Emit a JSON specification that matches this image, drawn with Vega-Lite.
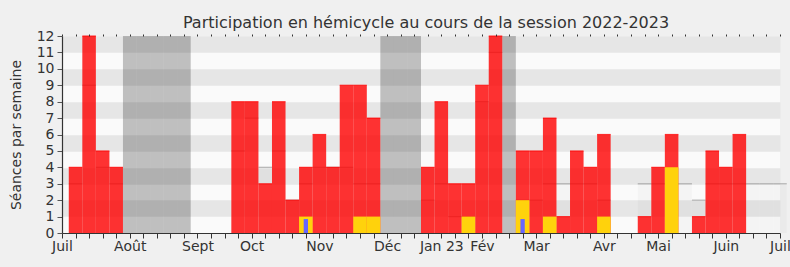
{
  "$schema": "https://vega.github.io/schema/vega-lite/v6.json",
  "width": 718,
  "height": 197,
  "autosize": {"type": "none"},
  "padding": {"left": 62, "top": 36, "right": 10, "bottom": 34},
  "background": "#f0f0f0",
  "config": {
    "font": "DejaVu Sans",
    "view": {"stroke": null, "fill": "#fafafa"},
    "scale": {"continuousPadding": 0}
  },
  "title": {
    "text": "Participation en hémicycle au cours de la session 2022-2023",
    "fontSize": 16,
    "fontWeight": "normal",
    "color": "#333333",
    "anchor": "middle",
    "baseline": "alphabetic",
    "offset": 9,
    "dy": 24,
    "dx": 5
  },
  "datasets": {
    "presence": [
      {"semaine": 1, "seances": 4}, {"semaine": 2, "seances": 12}, {"semaine": 3, "seances": 5}, {"semaine": 4, "seances": 4},
      {"semaine": 13, "seances": 8}, {"semaine": 14, "seances": 8}, {"semaine": 15, "seances": 3}, {"semaine": 16, "seances": 8},
      {"semaine": 17, "seances": 2}, {"semaine": 18, "seances": 4}, {"semaine": 19, "seances": 6}, {"semaine": 20, "seances": 4},
      {"semaine": 21, "seances": 9}, {"semaine": 22, "seances": 9}, {"semaine": 23, "seances": 7},
      {"semaine": 27, "seances": 4}, {"semaine": 28, "seances": 8}, {"semaine": 29, "seances": 3}, {"semaine": 30, "seances": 3},
      {"semaine": 31, "seances": 9}, {"semaine": 32, "seances": 12},
      {"semaine": 34, "seances": 5}, {"semaine": 35, "seances": 5}, {"semaine": 36, "seances": 7}, {"semaine": 37, "seances": 1},
      {"semaine": 38, "seances": 5}, {"semaine": 39, "seances": 4}, {"semaine": 40, "seances": 6},
      {"semaine": 43, "seances": 1}, {"semaine": 44, "seances": 4}, {"semaine": 45, "seances": 6},
      {"semaine": 47, "seances": 1}, {"semaine": 48, "seances": 5}, {"semaine": 49, "seances": 4}, {"semaine": 50, "seances": 6}
    ],
    "participation": [
      {"semaine": 18, "n": 1}, {"semaine": 22, "n": 1}, {"semaine": 23, "n": 1}, {"semaine": 30, "n": 1},
      {"semaine": 34, "n": 2}, {"semaine": 36, "n": 1}, {"semaine": 40, "n": 1}, {"semaine": 45, "n": 4}
    ],
    "questions": [
      {"semaine": 18, "n": 0.85}, {"semaine": 34, "n": 0.85}
    ],
    "vacances": [
      {"semaine": 5}, {"semaine": 6}, {"semaine": 7}, {"semaine": 8}, {"semaine": 9},
      {"semaine": 24}, {"semaine": 25}, {"semaine": 26}, {"semaine": 33}
    ],
    "mediane": [
      {"semaine": 1, "m": 3}, {"semaine": 2, "m": 9}, {"semaine": 3, "m": 4}, {"semaine": 4, "m": 3},
      {"semaine": 13, "m": 5}, {"semaine": 14, "m": 7}, {"semaine": 15, "m": 4}, {"semaine": 16, "m": 5},
      {"semaine": 17, "m": 2}, {"semaine": 18, "m": 3}, {"semaine": 19, "m": 4}, {"semaine": 20, "m": 4},
      {"semaine": 21, "m": 4}, {"semaine": 22, "m": 3}, {"semaine": 23, "m": 3},
      {"semaine": 27, "m": 2}, {"semaine": 28, "m": 3}, {"semaine": 29, "m": 1}, {"semaine": 30, "m": 1},
      {"semaine": 31, "m": 8}, {"semaine": 32, "m": 11},
      {"semaine": 34, "m": 2}, {"semaine": 35, "m": 2}, {"semaine": 36, "m": 3}, {"semaine": 37, "m": 3},
      {"semaine": 38, "m": 3}, {"semaine": 39, "m": 3}, {"semaine": 40, "m": 2},
      {"semaine": 43, "m": 3}, {"semaine": 44, "m": 3}, {"semaine": 45, "m": 3}, {"semaine": 46, "m": 3},
      {"semaine": 47, "m": 2}, {"semaine": 48, "m": 3}, {"semaine": 49, "m": 3}, {"semaine": 50, "m": 3},
      {"semaine": 51, "m": 3}, {"semaine": 52, "m": 3}, {"semaine": 53, "m": 3}
    ]
  },
  "layer": [
    {
      "data": {"name": "mediane"},
      "mark": {"type": "bar", "width": 13.55, "color": "#000000", "opacity": 0.025},
      "encoding": {
        "x": {
          "field": "semaine", "type": "quantitative",
          "scale": {"domain": [0, 53], "nice": false, "zero": false, "padding": 0},
          "axis": {
            "orient": "top", "values": [0,1,2,3,4,5,6,7,8,9,10,11,12,13,14,15,16,17,18,19,20,21,22,23,24,25,26,27,28,29,30,31,32,33,34,35,36,37,38,39,40,41,42,43,44,45,46,47,48,49,50,51,52,53],
            "labels": false, "domain": false, "ticks": true, "tickSize": 2, "tickColor": "#333333", "title": null, "grid": false, "zindex": 1
          }
        },
        "y": {
          "field": "m", "type": "quantitative",
          "scale": {"domain": [0, 12], "nice": false},
          "axis": {
            "orient": "left", "values": [1.5, 3.5, 5.5, 7.5, 9.5, 11.5],
            "grid": true, "gridColor": "#e6e6e6", "gridWidth": 16.42, "gridOpacity": 1,
            "labels": false, "ticks": false, "domain": false, "title": null, "zindex": 0
          }
        }
      }
    },
    {
      "data": {"name": "mediane"},
      "mark": {"type": "tick", "orient": "horizontal", "size": 13.55, "thickness": 1.3, "color": "#a0a0a0"},
      "encoding": {
        "x": {"field": "semaine", "type": "quantitative", "scale": {"domain": [0, 53], "nice": false, "zero": false, "padding": 0}, "axis": null},
        "y": {"field": "m", "type": "quantitative", "scale": {"domain": [0, 12], "nice": false}, "axis": null}
      }
    },
    {
      "data": {"name": "vacances"},
      "mark": {"type": "bar", "width": 13.55, "color": "#0e0e0e", "opacity": 0.25},
      "encoding": {
        "x": {"field": "semaine", "type": "quantitative", "scale": {"domain": [0, 53], "nice": false, "zero": false, "padding": 0}, "axis": null},
        "y": {"datum": 12, "type": "quantitative", "scale": {"domain": [0, 12], "nice": false}, "axis": null}
      }
    },
    {
      "data": {"name": "presence"},
      "mark": {"type": "bar", "width": 13.55, "color": "#ff0000", "opacity": 0.8},
      "encoding": {
        "x": {
          "field": "semaine", "type": "quantitative",
          "scale": {"domain": [0, 53], "nice": false, "zero": false, "padding": 0},
          "axis": {
            "orient": "bottom",
            "values": [0,1,2,3,4,5,6,7,8,9,10,11,12,13,14,15,16,17,18,19,20,21,22,23,24,25,26,27,28,29,30,31,32,33,34,35,36,37,38,39,40,41,42,43,44,45,46,47,48,49,50,51,52,53],
            "labelExpr": "{'0':'Juil','5':'Août','10':'Sept','14':'Oct','19':'Nov','24':'Déc','28':'Jan 23','31':'Fév','35':'Mar','40':'Avr','44':'Mai','49':'Juin','53':'Juil'}[datum.value] || ''",
            "labelOverlap": false, "labelFlush": false, "labelFontSize": 14, "labelColor": "#333333", "labelPadding": 1,
            "tickSize": 5, "tickColor": "#333333", "domainColor": "#333333", "domainWidth": 1.2,
            "title": null, "grid": false, "zindex": 1
          }
        },
        "y": {
          "field": "seances", "type": "quantitative",
          "scale": {"domain": [0, 12], "nice": false},
          "axis": {
            "orient": "left", "values": [0,1,2,3,4,5,6,7,8,9,10,11,12],
            "labelFontSize": 14, "labelColor": "#333333", "labelPadding": 3,
            "tickSize": 5, "tickColor": "#555555", "domainColor": "#333333", "domainWidth": 1.2,
            "title": "Séances par semaine", "titleFontSize": 14, "titleFontWeight": "normal", "titleColor": "#333333", "titlePadding": 13,
            "grid": false, "zindex": 1
          }
        }
      }
    },
    {
      "data": {"name": "presence"},
      "mark": {"type": "tick", "orient": "horizontal", "size": 13.55, "thickness": 1.2, "color": "#ff0000"},
      "encoding": {
        "x": {"field": "semaine", "type": "quantitative", "scale": {"domain": [0, 53], "nice": false, "zero": false, "padding": 0}, "axis": null},
        "y": {"field": "seances", "type": "quantitative", "scale": {"domain": [0, 12], "nice": false}, "axis": null}
      }
    },
    {
      "data": {"name": "participation"},
      "mark": {"type": "bar", "width": 13.55, "color": "#ffd20c"},
      "encoding": {
        "x": {"field": "semaine", "type": "quantitative", "scale": {"domain": [0, 53], "nice": false, "zero": false, "padding": 0}, "axis": null},
        "y": {"field": "n", "type": "quantitative", "scale": {"domain": [0, 12], "nice": false}, "axis": null}
      }
    },
    {
      "data": {"name": "questions"},
      "mark": {"type": "bar", "width": 4.3, "color": "#6666ff"},
      "encoding": {
        "x": {"field": "semaine", "type": "quantitative", "scale": {"domain": [0, 53], "nice": false, "zero": false, "padding": 0}, "axis": null},
        "y": {"field": "n", "type": "quantitative", "scale": {"domain": [0, 12], "nice": false}, "axis": null}
      }
    }
  ],
  "resolve": {"axis": {"x": "independent", "y": "independent"}}
}
